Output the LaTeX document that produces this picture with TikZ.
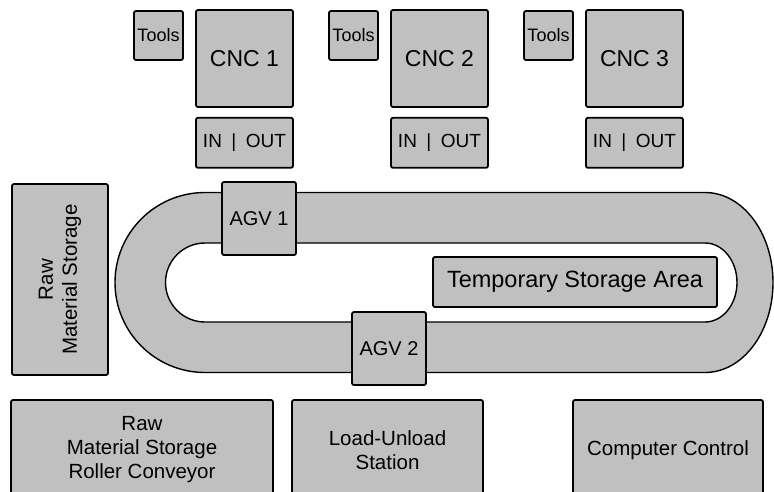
\documentclass[tikz,border=0pt]{standalone}
\usepackage{fontspec}
\setmainfont{Liberation Sans}
\usetikzlibrary{positioning}
\definecolor{cellgray}{RGB}{192,192,192}

\begin{document}
\begin{tikzpicture}[x=1pt,y=-1pt,line width=1.8pt,
  station/.style={draw,fill=cellgray,rounded corners=2pt,inner sep=0pt,align=center},
  txt/.style={font=\fontsize{#1}{24}\selectfont}]
  \useasboundingbox (0,0) rectangle (774,491);
  \clip (0,0) rectangle (774,491);
  % machining cells
  \foreach \i [evaluate=\i as \cx using 244.5+195*(\i-1)] in {1,2,3} {
    \node[station,txt=23,minimum width=97pt,minimum height=97pt] (cnc\i) at (\cx,58.5) {CNC \i};
    \node[station,txt=18,minimum width=49pt,minimum height=49pt] (tools\i) at (\cx-86,35.5) {Tools};
    \node[station,txt=19,minimum width=97pt,minimum height=50pt,below=9pt of cnc\i] (io\i) {IN\enspace|\enspace OUT};
  }
  % AGV loop
  \draw[line width=1.4pt,fill=cellgray,even odd rule]
    (205,192.5) -- (705,192.5) arc[start angle=-90,end angle=90,x radius=68,y radius=90]
      -- (205,372.5) arc[start angle=90,end angle=270,radius=90] -- cycle
    (205,243) -- (705,243) arc[start angle=-90,end angle=90,x radius=32,y radius=39.5]
      -- (205,322) arc[start angle=90,end angle=270,radius=39.5] -- cycle;
  \node[station,txt=20,minimum width=74pt,minimum height=73pt] (agv1) at (259,218.5) {AGV 1};
  \node[station,txt=20,minimum width=74pt,minimum height=73pt] (agv2) at (389,348.5) {AGV 2};
  \node[station,txt=23.5,minimum width=284pt,minimum height=50pt] (temp) at (575,282) {Temporary Storage Area};
  % storage and stations
  \node[station,txt=20.5,minimum width=96pt,minimum height=191pt] (rawst) at (60,279.5) {};
  \node[txt=20.5,rotate=90,align=center] at (rawst) {Raw\\Material Storage};
  \node[station,txt=20.5,minimum width=262pt,minimum height=100pt] (rawconv) at (142,450) {Raw\\Material Storage\\Roller Conveyor};
  \node[station,txt=20.5,minimum width=191pt,minimum height=100pt] (load) at (387.5,450) {Load-Unload\\Station};
  \node[station,txt=20.5,minimum width=190pt,minimum height=100pt] (control) at (668,450) {Computer Control};
\end{tikzpicture}
\end{document}
